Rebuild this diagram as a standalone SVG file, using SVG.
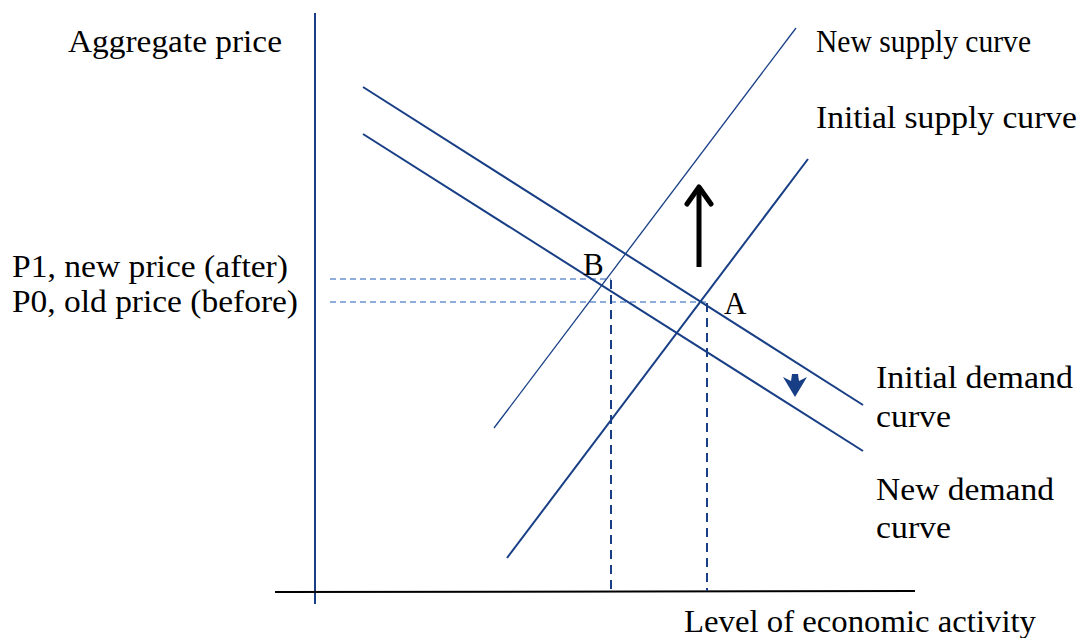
<svg xmlns="http://www.w3.org/2000/svg" width="1082" height="638" viewBox="0 0 1082 638">
<style>
text{font-family:"Liberation Serif","DejaVu Serif",serif;font-size:31px;fill:#000}
.curve{stroke:#183f85;fill:none;stroke-width:2}
.thin{stroke:#183f85;fill:none;stroke-width:1.3}
.hd{stroke:#6a93cf;stroke-width:1.3;stroke-dasharray:6 4;fill:none}
.vd{stroke:#183f85;stroke-width:2;stroke-dasharray:9 6;fill:none}
</style>
<rect width="1082" height="638" fill="#fff"/>
<g id="axes">
<line x1="315" y1="13" x2="315" y2="604" class="curve"/>
<line x1="275" y1="592" x2="915" y2="591" stroke="#000" stroke-width="2"/>
</g>
<g id="connectors">
<line x1="330" y1="279" x2="611" y2="279" class="hd"/>
<line x1="330" y1="302" x2="707" y2="302" class="hd"/>
<line x1="611" y1="280" x2="611" y2="591" class="vd"/>
<line x1="707" y1="303" x2="707" y2="591" class="vd"/>
</g>
<g id="initial-demand"><line x1="363" y1="87" x2="863" y2="405" class="curve"/></g>
<g id="new-demand"><line x1="363" y1="134" x2="863" y2="451" class="curve"/></g>
<g id="new-supply"><line x1="494" y1="428" x2="796" y2="28" class="thin"/></g>
<g id="initial-supply"><line x1="507" y1="558" x2="808" y2="159" class="curve"/></g>
<g id="shift-arrows">
<line x1="699" y1="267" x2="699" y2="188" stroke="#000" stroke-width="5"/>
<polyline points="687,204 699,187 711,204" fill="none" stroke="#000" stroke-width="5" stroke-linecap="round" stroke-linejoin="round"/>
<polygon points="783,377 791,381 792,374 798,374 799,381 807,377 795,397" fill="#183f85"/>
</g>
<g id="labels">
<text x="68" y="52" textLength="214" lengthAdjust="spacingAndGlyphs">Aggregate price</text>
<text x="816" y="52" textLength="215" lengthAdjust="spacingAndGlyphs">New supply curve</text>
<text x="816" y="128" textLength="261" lengthAdjust="spacingAndGlyphs">Initial supply curve</text>
<text x="12" y="277" textLength="276" lengthAdjust="spacingAndGlyphs">P1, new price (after)</text>
<text x="12" y="312" textLength="286" lengthAdjust="spacingAndGlyphs">P0, old price (before)</text>
<text x="876" y="388" textLength="197" lengthAdjust="spacingAndGlyphs">Initial demand</text>
<text x="876" y="427" textLength="75" lengthAdjust="spacingAndGlyphs">curve</text>
<text x="876" y="500" textLength="178" lengthAdjust="spacingAndGlyphs">New demand</text>
<text x="876" y="538" textLength="75" lengthAdjust="spacingAndGlyphs">curve</text>
<text x="684" y="632" textLength="352" lengthAdjust="spacingAndGlyphs">Level of economic activity</text>
<text x="583" y="275">B</text>
<text x="724" y="314">A</text>
</g>
</svg>
